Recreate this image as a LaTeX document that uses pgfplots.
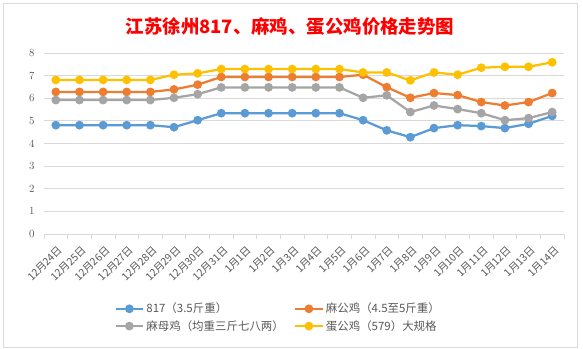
\documentclass[border=0pt]{standalone}
\usepackage{pgfplots}
\usepackage{pgfplotstable}
\pgfplotsset{compat=1.18}
\usepackage{fontspec}
\setmainfont{Noto Sans CJK SC}
\definecolor{cblue}{HTML}{5B9BD5}
\definecolor{corange}{HTML}{ED7D31}
\definecolor{cgray}{HTML}{A5A5A5}
\definecolor{cyellow}{HTML}{FFC000}
\definecolor{gridc}{HTML}{D9D9D9}
\definecolor{txt}{HTML}{595959}
\pgfplotstableread{
x b o g y
0 4.81 6.28 5.92 6.81
1 4.81 6.28 5.92 6.81
2 4.81 6.28 5.92 6.81
3 4.81 6.28 5.92 6.81
4 4.81 6.28 5.92 6.81
5 4.72 6.39 6.02 7.04
6 5.03 6.60 6.18 7.10
7 5.34 6.94 6.48 7.29
8 5.34 6.94 6.48 7.29
9 5.34 6.94 6.48 7.29
10 5.34 6.94 6.48 7.29
11 5.34 6.94 6.48 7.29
12 5.34 6.94 6.48 7.29
13 5.03 7.04 6.02 7.14
14 4.58 6.49 6.13 7.14
15 4.28 6.02 5.39 6.79
16 4.68 6.23 5.68 7.14
17 4.81 6.14 5.52 7.04
18 4.77 5.83 5.34 7.35
19 4.68 5.68 5.03 7.39
20 4.87 5.83 5.12 7.39
21 5.22 6.23 5.39 7.59
}\data
\begin{document}
\begin{tikzpicture}
\path[fill=white] (0,0) rectangle (583bp,349bp);
\draw[gridc, line width=0.75bp] (3bp,2bp) rectangle (577bp,346bp);
\node[text=red, font=\fontsize{18.5}{22}\selectfont\bfseries] at (290bp,322bp) {江苏徐州817、麻鸡、蛋公鸡价格走势图};
\begin{axis}[
  at={(44bp,115bp)}, anchor=south west,
  scale only axis, width=520bp, height=181bp,
  xmin=-0.5, xmax=21.5, ymin=0, ymax=8,
  ytick={0,1,...,8},
  xtick={0,1,...,21},
  xticklabels={12月24日,12月25日,12月26日,12月27日,12月28日,12月29日,12月30日,12月31日,1月1日,1月2日,1月3日,1月4日,1月5日,1月6日,1月7日,1月8日,1月9日,1月10日,1月11日,1月12日,1月13日,1月14日},
  minor xtick={-0.5,0.5,...,21.5},
  major tick length=0pt, minor tick length=5bp,
  tick align=outside,
  axis x line*=bottom, axis y line*=left,
  x axis line style={gridc, line width=0.75bp, -},
  y axis line style={draw=none},
  every tick/.style={gridc, line width=0.75bp},
  ymajorgrids, grid style={gridc, line width=0.75bp},
  tick label style={text=txt, font=\fontsize{11}{13}\selectfont},
  yticklabel style={xshift=-6bp},
  xticklabel style={inner sep=0pt, font=\fontsize{10.5}{12}\selectfont, xshift=5bp, yshift=-14bp, rotate=45, anchor=east},
  every axis plot/.append style={line width=2.25pt, mark=*, mark size=3.2bp},
  legend columns=2,
  legend cell align=left,
  legend style={draw=none, fill=none, inner sep=0pt, at={(0.135,-0.37)}, anchor=north west,
    font=\fontsize{11.5}{13}\selectfont, text=txt,
    /tikz/every even column/.append style={column sep=8bp},
    row sep=2bp},
  legend image code/.code={\draw[mark repeat=2, mark phase=2] plot coordinates {(0cm,0cm) (0.49cm,0cm) (0.98cm,0cm)};},
]
\addplot[cblue, mark options={fill=cblue, draw=cblue}] table[x=x, y=b] {\data};
\addlegendentry{817（3.5斤重）}
\addplot[corange, mark options={fill=corange, draw=corange}] table[x=x, y=o] {\data};
\addlegendentry{麻公鸡（4.5至5斤重）}
\addplot[cgray, mark options={fill=cgray, draw=cgray}] table[x=x, y=g] {\data};
\addlegendentry{麻母鸡（均重三斤七八两）}
\addplot[cyellow, mark options={fill=cyellow, draw=cyellow}] table[x=x, y=y] {\data};
\addlegendentry{蛋公鸡（579）大规格}
\end{axis}
\end{tikzpicture}
\end{document}
